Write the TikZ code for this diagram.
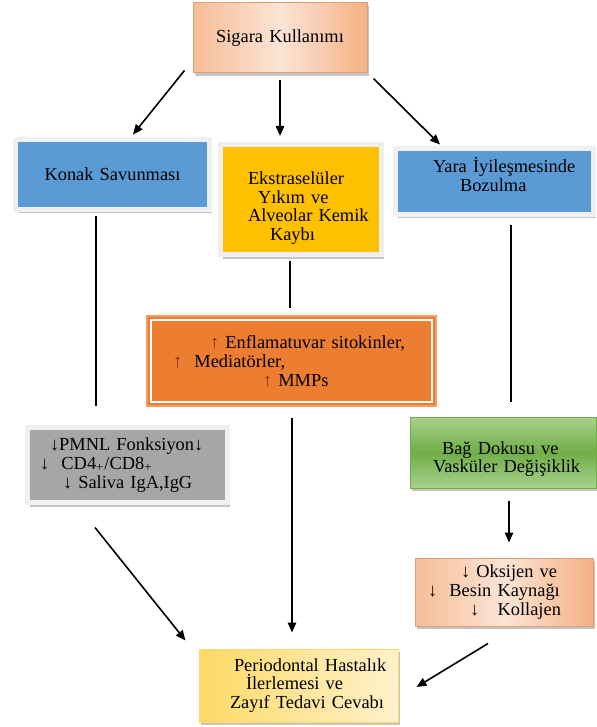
\documentclass[tikz,border=0pt]{standalone}
\usepackage{fontspec}
\setmainfont{Liberation Serif}
\usetikzlibrary{arrows.meta}
\usetikzlibrary{positioning, shadows}
\definecolor{mavi}{HTML}{5B9BD5}
\definecolor{sari}{HTML}{FFC000}
\definecolor{turuncu}{HTML}{ED7D31}
\definecolor{acikTuruncu}{HTML}{F4B183}
\definecolor{seftali}{HTML}{FCE4D6}
\definecolor{gri}{HTML}{A6A6A6}
\definecolor{yesil}{HTML}{70AD47}
\definecolor{acikYesil}{HTML}{A9D18E}
\definecolor{koyuYesil}{HTML}{548235}
\definecolor{altin}{HTML}{FFD966}
\definecolor{krem}{HTML}{FFF2CC}
\definecolor{okKirmizi}{HTML}{8E2A12}
\newcommand\Ind[1]{\hspace*{#1}}
\newcommand\Ust[1]{\rule{0pt}{#1}}
\newcommand\Alt[1]{\rule[-#1]{0pt}{0pt}}
\newcommand\Yuk{\textcolor{okKirmizi}{↑}}

\begin{document}
\begin{tikzpicture}[x=0.5pt, y=-0.5pt,
font=\fontsize{9.2}{9.4}\selectfont,
kutu/.style={
  inner sep=0pt, align=left,
  draw, line width=0.5pt
},
golge/.style={
  drop shadow={shadow xshift=1pt, shadow yshift=-1.5pt, fill=black!45, opacity=.5}
},
cerceve/.style={
  kutu, draw=black!6, line width=2.5pt,
  drop shadow={shadow xshift=1pt, shadow yshift=-2pt, fill=black!45, opacity=.5}
},
seftaliKutu/.style={
  kutu, golge, draw=acikTuruncu!90!black,
  left color=acikTuruncu!85, right color=acikTuruncu, middle color=seftali
},
ok/.style={-{Triangle[length=5pt,width=4.2pt]}, line width=0.8pt},
cizgi/.style={line width=0.7pt}
]
\useasboundingbox (0,0) rectangle (596,727);

% kutular
\node (sigara) [seftaliKutu, align=center, text width=87pt, minimum height=35pt]
  at (280,38) {Sigara Kullanımı};
\node (konak) [cerceve, fill=mavi, align=center, text width=97pt, minimum height=35pt]
  at (112.5,174.5) {Konak Savunması};
\node (ekstra) [cerceve, fill=sari, text width=80.5pt, minimum height=55pt]
  at (301,199.5) {\Ind{13.75pt}\Ust{15pt}Ekstraselüler\\
  \Ind{18.75pt}Yıkım ve\\
  \Ind{13.75pt}Alveolar Kemik\\
  \Ind{24.75pt}Kaybı};
\node (yara) [cerceve, fill=mavi, text width=99pt, minimum height=33pt]
  at (494.5,181.5) {\Ind{18.75pt}Yara İyileşmesinde\\
  \Ind{32.25pt}Bozulma\Alt{7pt}};
\node (enf) [kutu, fill=turuncu, draw=turuncu!75, line width=1pt, text width=144.5pt, minimum height=45pt]
  at (291.5,361) {\Ind{31.5pt}\Yuk{} Enflamatuvar sitokinler,\\
  \Ind{13pt}\Yuk\ \ Mediatörler,\\
  \Ind{58pt}\Yuk{} MMPs};
\draw[white, line width=0.6pt] ([shift={(2.5pt,-2.5pt)}]enf.north west) rectangle ([shift={(-2.5pt,2.5pt)}]enf.south east);
\node (pmnl) [cerceve, fill=gri, text width=100pt, minimum height=37.5pt]
  at (127.5,465) {\Ind{11.25pt}↓PMNL Fonksiyon↓\\
  \Ind{6.25pt}↓\ \ CD4\textsubscript{+}/CD8\textsubscript{+}\\
  \Ind{17.75pt}↓ Saliva IgA,IgG};
\node (bag) [kutu, golge, draw=yesil, top color=acikYesil, bottom color=acikYesil, middle color=yesil,
  text width=93pt, minimum height=35.5pt]
  at (503,452.5) {\Ind{16pt}\Ust{13pt}Bağ Dokusu ve\\
  \Ind{11.5pt}Vasküler Değişiklik};
\node (oks) [seftaliKutu, text width=89pt, minimum height=34pt]
  at (504,592) {\Ind{23pt}↓ Oksijen ve\\
  \Ind{6.5pt}↓\ \ Besin Kaynağı\\
  \Ind{27.5pt}↓\ \ \ Kollajen};
\node (perio) [kutu, golge, draw=altin, left color=altin, right color=krem,
  text width=99.5pt, minimum height=36.5pt]
  at (298.5,685.5) {\Ind{17.5pt}Periodontal Hastalık\\
  \Ind{23.5pt}İlerlemesi ve\\
  \Ind{15.5pt}Zayıf Tedavi Cevabı};

% baglantilar
\draw[ok] ([xshift=-4pt,yshift=1.5pt]sigara.south west) -- ([xshift=10.25pt,yshift=1.25pt]konak.north);
\draw[ok] ([yshift=-3.5pt]sigara.south) -- ([xshift=-10.5pt,yshift=3pt]ekstra.north);
\draw[ok] ([xshift=3pt,yshift=-2.5pt]sigara.south east) -- ([xshift=-27.25pt,yshift=0.75pt]yara.north);
\draw[cizgi] ([xshift=-8.25pt,yshift=-2pt]konak.south) -- ([xshift=-15.75pt,yshift=9.75pt]pmnl.north);
\draw[cizgi] ([xshift=-5.5pt,yshift=-2pt]ekstra.south) -- ([xshift=-0.75pt,yshift=3.5pt]enf.north);
\draw[cizgi] ([xshift=8.25pt,yshift=-3.75pt]yara.south) -- ([xshift=4pt,yshift=7.5pt]bag.north);
\draw[ok] ([xshift=0.25pt,yshift=-5.5pt]enf.south) -- ([xshift=-3.25pt,yshift=8pt]perio.north);
\draw[ok] ([xshift=3pt,yshift=-6pt]bag.south) -- ([xshift=2.5pt,yshift=7.5pt]oks.north);
\draw[ok] ([xshift=-16.25pt,yshift=-11.25pt]pmnl.south) -- ([xshift=-6.5pt,yshift=4pt]perio.north west);
\draw[ok] ([xshift=-8pt,yshift=-8.5pt]oks.south) -- ([xshift=9pt,yshift=-0.75pt]perio.east);
\end{tikzpicture}
\end{document}
